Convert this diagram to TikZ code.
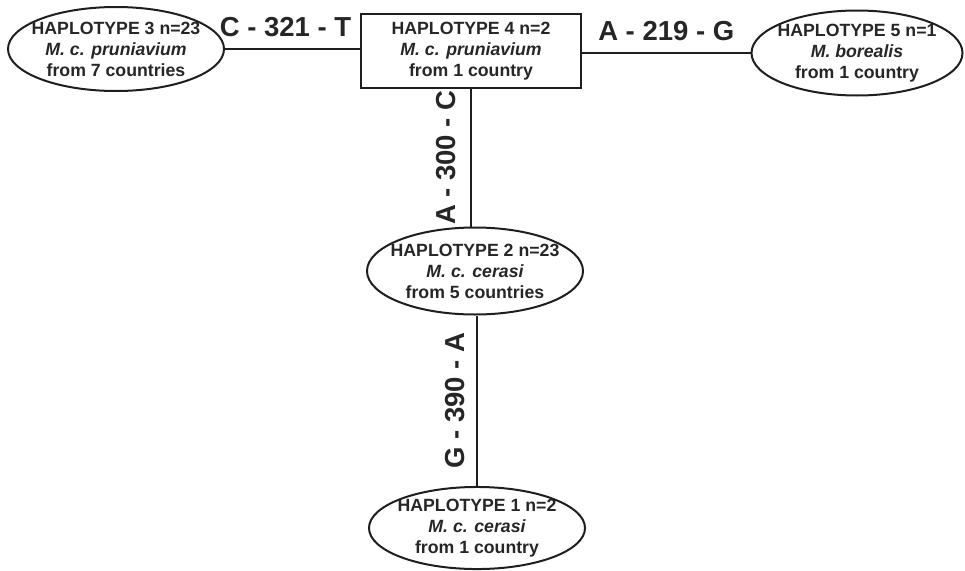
\documentclass[tikz,border=0pt]{standalone}
\usepackage{fontspec}
\setmainfont{Liberation Sans}
\usetikzlibrary{shapes.geometric}
\definecolor{hap-border}{HTML}{1E1E1E}
\definecolor{hap-text}{HTML}{262626}
\definecolor{link-color}{HTML}{1E1E1E}
\tikzset{
  hap-node/.style={
    ellipse, draw=hap-border, line width=2pt, text=hap-text, align=center,
    inner xsep=-12pt, inner ysep=0pt, minimum width=216pt, minimum height=84pt,
    font=\fontsize{17.7}{21}\selectfont\bfseries
  },
  hap-box/.style={
    rectangle, draw=hap-border, line width=2pt, text=hap-text, align=center,
    minimum width=220pt, minimum height=74pt,
    font=\fontsize{17.7}{21}\selectfont\bfseries
  },
  link/.style={line width=2pt, draw=link-color},
  mutation/.style={font=\fontsize{27.5}{32}\selectfont\bfseries, text=hap-text, inner sep=11pt},
  mutation-up/.style={mutation, rotate=90, anchor=south}
}

\begin{document}
\begin{tikzpicture}[x=1pt, y=-1pt]
  \useasboundingbox (0,0) rectangle (965,570);

  \node[hap-node] (hap3) at (116, 49) {HAPLOTYPE 3 n=23\\{\itshape M. c. pruniavium}\\from 7 countries};
  \node[hap-box]  (hap4) at (471, 51) {HAPLOTYPE 4 n=2\\{\itshape M. c. pruniavium}\\from 1 country};
  \node[hap-node, minimum width=211pt, minimum height=85pt] (hap5) at (857, 53) {HAPLOTYPE 5 n=1\\{\itshape M. borealis}\\from 1 country};
  \node[hap-node, minimum height=87pt] (hap2) at (475, 271) {HAPLOTYPE 2 n=23\\{\itshape M. c. cerasi}\\from 5 countries};
  \node[hap-node, minimum height=82pt] (hap1) at (477, 528) {HAPLOTYPE 1 n=2\\{\itshape M. c. cerasi}\\from 1 country};

  \draw[link] (hap3.east) -- node[mutation, above, xshift=-7pt] {C - 321 - T} (hap4.west |- hap3.east);
  \draw[link] (hap4.east |- hap5.west) -- node[mutation, above] {A - 219 - G} (hap5.west);
  \draw[link] (hap4.south) -- node[mutation-up, inner sep=14pt] {A - 300 - C} (hap4.south |- hap2.north);
  \draw[link] (hap1.north |- hap2.south) -- node[mutation-up] {G - 390 - A} (hap1.north);
\end{tikzpicture}
\end{document}
